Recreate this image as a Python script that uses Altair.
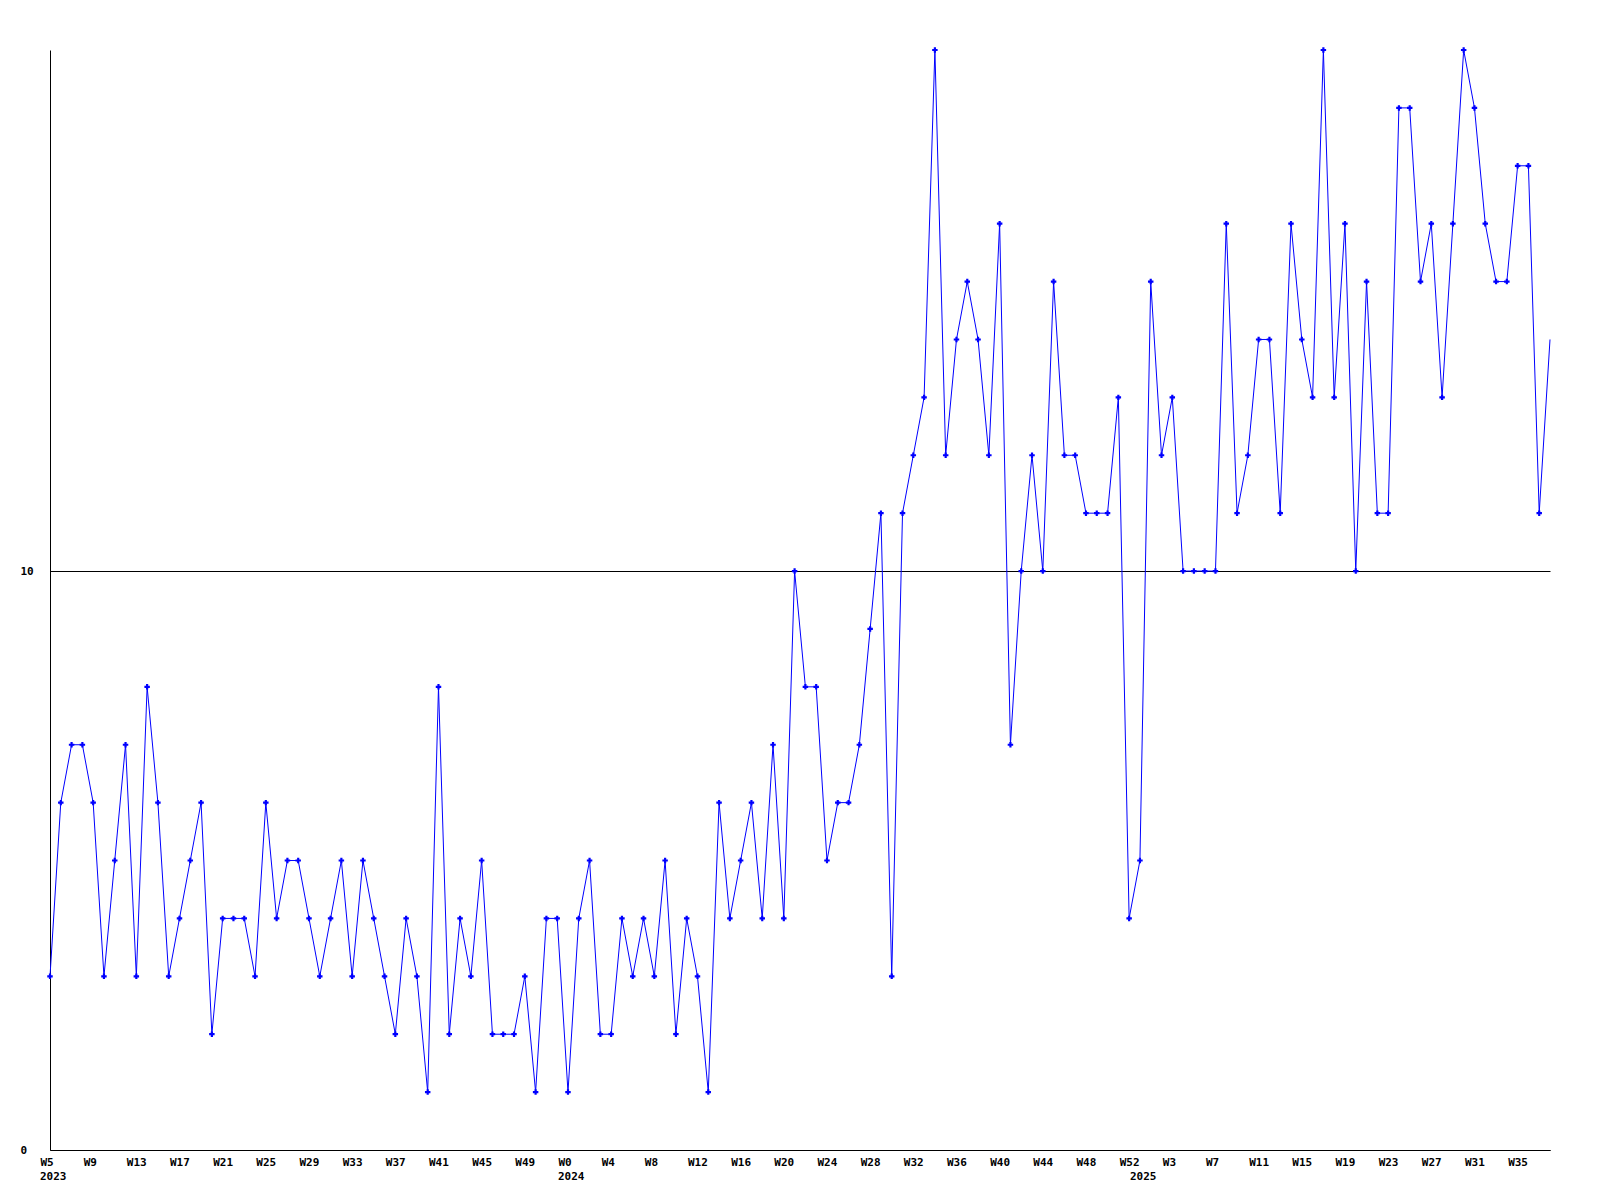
import json
import altair as alt
import pandas as pd

# ---- data ----
weeks_2023 = list(range(5, 53))   # W5 .. W52
weeks_2024 = list(range(0, 53))   # W0 .. W52
weeks_2025 = list(range(0, 39))   # W0 .. W38

values_2023 = [3, 6, 7, 7, 6, 3, 5, 7, 3, 8, 6, 3, 4, 5, 6, 2, 4, 4, 4, 3,
               6, 4, 5, 5, 4, 3, 4, 5, 3, 5, 4, 3, 2, 4, 3, 1, 8, 2, 4, 3,
               5, 2, 2, 2, 3, 1, 4, 4]
values_2024 = [1, 4, 5, 2, 2, 4, 3, 4, 3, 5, 2, 4, 3, 1, 6, 4, 5, 6, 4, 7,
               4, 10, 8, 8, 5, 6, 6, 7, 9, 11, 3, 11, 12, 13, 19, 12, 14, 15, 14, 12,
               16, 7, 10, 12, 10, 15, 12, 12, 11, 11, 11, 13, 4]
values_2025 = [5, 15, 12, 13, 10, 10, 10, 10, 16, 11, 12, 14, 14, 11, 16, 14, 13, 19, 13, 16,
               10, 15, 11, 11, 18, 18, 15, 16, 13, 16, 19, 18, 16, 15, 15, 17, 17, 11, 14]

y_ticks = [0, 10]
y_max = 19
label_every = 4

# ---- build table ----
years = [2023] * len(weeks_2023) + [2024] * len(weeks_2024) + [2025] * len(weeks_2025)
weeks = weeks_2023 + weeks_2024 + weeks_2025
values = values_2023 + values_2024 + values_2025
n = len(values)
df = pd.DataFrame({"i": list(range(n)), "year": years, "week": weeks, "value": values})

first_of_year = df.groupby("year", as_index=False)["i"].min()
first_of_year["year_label"] = first_of_year["year"].astype(str)

tick_idx = list(range(0, n, label_every))
week_labels = ["W%d" % w for w in weeks]
label_expr = json.dumps(week_labels) + "[datum.value]"

FONT = "DejaVu Sans Mono"
BLUE = "#0000ff"

W, H = 1500, 1100

x_enc = alt.X(
    "i:Q",
    scale=alt.Scale(domain=[0, n - 1], nice=False, zero=False),
    axis=alt.Axis(
        values=tick_idx, labelExpr=label_expr, title=None, grid=False,
        ticks=False, tickSize=0, labelAlign="left", labelOffset=-10,
        labelPadding=6, labelBaseline="top", labelFont=FONT, labelFontSize=11,
        labelFontWeight="bold", labelColor="black", domainColor="black",
        domainWidth=1, labelOverlap=False, labelFlush=False,
    ),
)
y_enc = alt.Y(
    "value:Q",
    scale=alt.Scale(domain=[0, y_max], nice=False, zero=True),
    axis=alt.Axis(
        values=y_ticks, title=None, grid=True, gridColor="black", gridOpacity=1,
        gridWidth=1, ticks=False, tickSize=0, labelAlign="left", labelPadding=30,
        labelBaseline="middle", labelFont=FONT, labelFontSize=11,
        labelFontWeight="bold", labelColor="black", domainColor="black",
        domainWidth=1, format="d", labelFlush=False,
    ),
)

base = alt.Chart(df)
line = base.mark_line(color=BLUE, strokeWidth=1).encode(x=x_enc, y=y_enc)
points = base.transform_filter(alt.datum.i < n - 1).mark_point(
    shape="cross", filled=True, color=BLUE, size=30, opacity=1
).encode(x="i:Q", y="value:Q")

year_text = alt.Chart(first_of_year).mark_text(
    align="left", baseline="middle", dx=-10, font=FONT, fontSize=11,
    fontWeight="bold", color="black"
).encode(x="i:Q", y=alt.value(H + 27), text="year_label:N")

chart = alt.layer(line, points, year_text).properties(
    width=W, height=H,
    autosize=alt.AutoSizeParams(type="none"),
    padding={"left": 42, "top": 42, "right": 20, "bottom": 60},
    background="white",
).configure_view(stroke=None)

chart.save("out.html", embed_options={"renderer": "svg", "actions": False})
